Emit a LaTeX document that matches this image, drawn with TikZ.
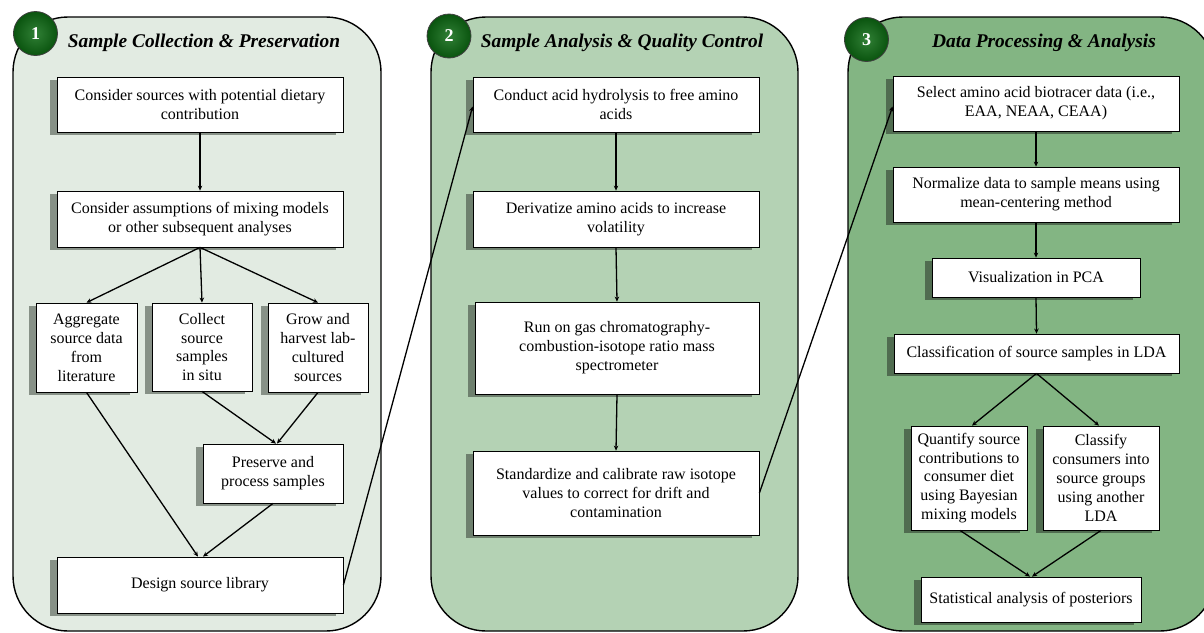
\documentclass[tikz,border=0pt]{standalone}
\usepackage{fontspec}
\setmainfont{Liberation Serif}
\usetikzlibrary{arrows.meta,shadows}
\definecolor{pone}{RGB}{226,235,226}
\definecolor{ptwo}{RGB}{180,210,180}
\definecolor{pthree}{RGB}{131,181,131}
\definecolor{sone}{RGB}{135,145,135}
\definecolor{stwo}{RGB}{110,128,110}
\definecolor{sthree}{RGB}{80,108,80}
\definecolor{cgreen}{RGB}{12,105,18}
\tikzset{
  x=1pt, y=-1pt,
  panel/.style={draw=black, line width=1.4pt, rounded corners=55pt},
  stepbox/.style={draw=black, line width=0.8pt, fill=white, inner sep=0pt, align=center,
    font=\fontsize{16}{18.9}\selectfont},
  shone/.style={drop shadow={shadow xshift=-7pt, shadow yshift=-3pt, opacity=1, fill=sone, draw=none}},
  shtwo/.style={drop shadow={shadow xshift=-7pt, shadow yshift=-3pt, opacity=1, fill=stwo, draw=none}},
  shthree/.style={drop shadow={shadow xshift=-7pt, shadow yshift=-3pt, opacity=1, fill=sthree, draw=none}},
  num/.style={circle, minimum size=44pt, inner sep=0pt, draw=black!75, line width=0.8pt,
    inner color=cgreen!85!white, outer color=cgreen!80!black,
    text=white, font=\fontsize{18}{20}\selectfont\bfseries},
  ttl/.style={font=\fontsize{19.4}{22}\selectfont\bfseries\itshape, inner sep=0pt},
  conn/.style={line width=1.3pt, -{Stealth[length=5pt,width=4.5pt]}},
}
\newcommand{\bx}[7]{% name, x1, y1, x2, y2, style, text
  \node[stepbox,#6, minimum width={#4-#2}, minimum height={#5-#3}] (#1) at ({(#2+#4)/2},{(#3+#5)/2}) {#7};}
\begin{document}
\begin{tikzpicture}
\useasboundingbox (0,0) rectangle (1204,632);
\clip (0,0) rectangle (1204,632);
% panels
\draw[panel, fill=pone] (13,17) rectangle (381,631);
\draw[panel, fill=ptwo] (431,17) rectangle (798,631);
\draw[panel, fill=pthree] (848,17) rectangle (1215,631);
% numbered circles
\node[num] (n1) at (35.5,33.5) {1};
\node[num] (n2) at (449,36) {2};
\node[num] (n3) at (866.5,39.5) {3};
% titles
\node[ttl] (t1) at (204,43) {Sample Collection \& Preservation};
\node[ttl] (t2) at (622,43) {Sample Analysis \& Quality Control};
\node[ttl] (t3) at (1044,43) {Data Processing \& Analysis};
% panel 1
\bx{a}{57}{77}{343}{132}{shone}{Consider sources with potential dietary\\contribution}
\bx{b}{57}{191}{343}{247}{shone}{Consider assumptions of mixing models\\or other subsequent analyses}
\bx{c1}{36}{303}{137}{392}{shone}{Aggregate\\source data\\from\\literature}
\bx{c2}{152}{303}{252}{391}{shone}{Collect\\source\\samples\\in situ}
\bx{c3}{268}{303}{368}{392}{shone}{Grow and\\harvest lab-\\cultured\\sources}
\bx{d}{203}{444}{343}{503}{shone}{Preserve and\\process samples}
\bx{e}{57}{557}{343}{613}{shone}{Design source library}
% panel 2
\bx{f}{473}{77}{759}{132}{shtwo}{Conduct acid hydrolysis to free amino\\acids}
\bx{g}{473}{191}{759}{247}{shtwo}{Derivatize amino acids to increase\\volatility}
\bx{h}{475}{302}{759}{394}{shtwo}{Run on gas chromatography-\\combustion-isotope ratio mass\\spectrometer}
\bx{i}{473}{451}{759}{535}{shtwo}{Standardize and calibrate raw isotope\\values to correct for drift and\\contamination}
% panel 3
\bx{j}{893}{76}{1179}{131}{shthree}{Select amino acid biotracer data (i.e.,\\EAA, NEAA, CEAA)}
\bx{k}{893}{167}{1179}{222}{shthree}{Normalize data to sample means using\\mean-centering method}
\bx{l}{932}{258}{1140}{297}{shthree}{Visualization in PCA}
\bx{m}{894}{334}{1179}{373}{shthree}{Classification of source samples in LDA}
\bx{q1}{911}{426}{1027}{530}{shthree}{Quantify source\\contributions to\\consumer diet\\using Bayesian\\mixing models}
\bx{q2}{1043}{426}{1159}{530}{shthree}{Classify\\consumers into\\source groups\\using another\\LDA}
\bx{s}{921}{577}{1141}{622}{shthree}{Statistical analysis of posteriors}
% connectors panel 1
\draw[conn] (a.south) -- (b.north);
\draw[conn] (b.south) -- (c1.north);
\draw[conn] (b.south) -- (c2.north);
\draw[conn] (b.south) -- (c3.north);
\draw[conn] (c1.south) -- ([xshift=-2pt]e.north);
\draw[conn] (c2.south) -- ([xshift=3pt]d.north);
\draw[conn] (c3.south) -- ([xshift=4pt]d.north);
\draw[conn] (d.south) -- ([xshift=3pt]e.north);
% panel 2
\draw[conn] (f.south) -- (g.north);
\draw[conn] (g.south) -- (h.north);
\draw[conn] (h.south) -- (i.north);
% panel 3
\draw[conn] (j.south) -- (k.north);
\draw[conn] (k.south) -- (l.north);
\draw[conn] (l.south) -- (m.north);
\draw[conn] (m.south) -- ([xshift=3pt]q1.north);
\draw[conn] (m.south) -- ([xshift=-2pt]q2.north);
\draw[conn] ([xshift=-9pt]q1.south) -- ([xshift=-1pt]s.north);
\draw[conn] (q2.south) -- ([xshift=1pt]s.north);
% cross-panel
\draw[conn] (e.east) -- ([yshift=-2pt]f.west);
\draw[conn] (i.east) -- ([yshift=-3pt]j.west);
\end{tikzpicture}
\end{document}
